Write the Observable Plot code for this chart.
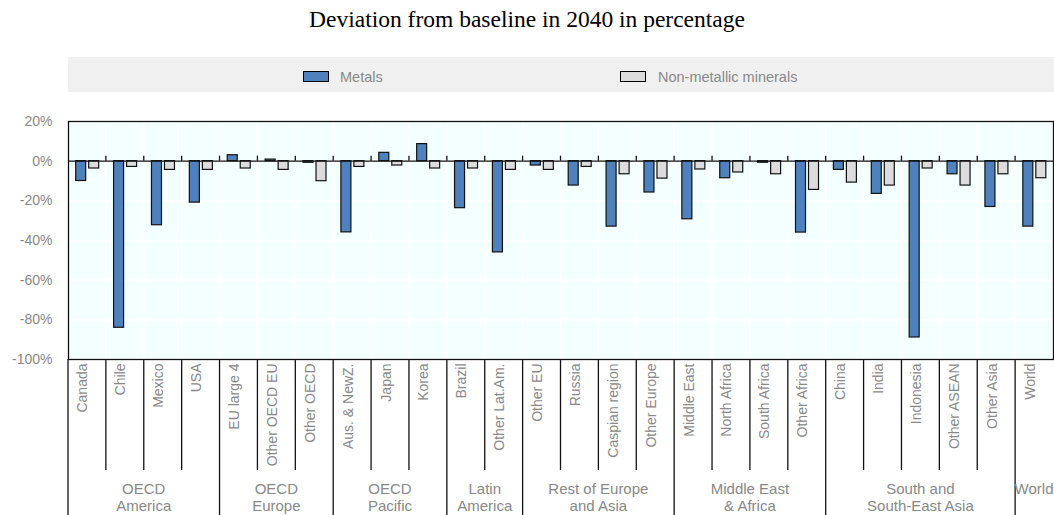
<!DOCTYPE html>
<html><head><meta charset="utf-8">
<script src="https://cdn.jsdelivr.net/npm/d3@7"></script>
<script src="https://cdn.jsdelivr.net/npm/@observablehq/plot@0.6"></script>
<style>
html,body{margin:0;padding:0;background:#fff;overflow:hidden;}
#wrap{position:relative;width:1054px;height:515px;overflow:hidden;font-family:"Liberation Sans",Arial,sans-serif;}
#title{position:absolute;left:0;width:1054px;top:6.1px;text-align:center;font-family:"Liberation Serif","Times New Roman",serif;font-size:23.5px;line-height:26px;color:#000;white-space:nowrap;}
#legend{position:absolute;left:68px;top:57px;width:986px;height:35px;background:#f0f0f0;}
.sw{position:absolute;top:14px;width:24px;height:9px;border:1px solid #000;}
.lt{position:absolute;top:12.7px;font-size:14.5px;line-height:14.5px;color:#888;white-space:nowrap;}
#chart{position:absolute;left:0;top:100px;}
</style></head>
<body>
<div id="wrap">
  <div id="title">Deviation from baseline in 2040 in percentage</div>
  <div id="legend">
    <div class="sw" style="left:235px;background:#4F81BD"></div>
    <div class="lt" style="left:272px">Metals</div>
    <div class="sw" style="left:552px;background:#DCDCDC"></div>
    <div class="lt" style="left:590px">Non-metallic minerals</div>
  </div>
  <div id="chart"></div>
</div>
<script>
const categories = ["Canada","Chile","Mexico","USA","EU large 4","Other OECD EU","Other OECD","Aus. & NewZ.","Japan","Korea","Brazil","Other Lat.Am.","Other EU","Russia","Caspian region","Other Europe","Middle East","North Africa","South Africa","Other Africa","China","India","Indonesia","Other ASEAN","Other Asia","World"];
const metals = [-10,-84,-32.3,-20.9,3,0.8,-0.8,-35.9,4.2,8.6,-23.7,-46,-2.2,-12.3,-33,-15.8,-29.3,-8.6,-0.8,-36,-4.4,-16.5,-88.9,-6.6,-23.1,-33];
const nonMetallic = [-3.7,-2.9,-4.4,-4.4,-3.7,-4.4,-10.1,-2.9,-2.2,-3.7,-3.7,-4.4,-4.4,-2.9,-6.6,-8.8,-4.2,-5.7,-6.6,-14.5,-10.8,-12.3,-3.7,-12.3,-6.6,-8.6];
const groupNames = [["OECD","America"],["OECD","Europe"],["OECD","Pacific"],["Latin","America"],["Rest of Europe","and Asia"],["Middle East","& Africa"],["South and","South-East Asia"],["World"]];
const groupSizes = [4,3,3,2,4,4,5,1];
const yTicks = [20,0,-20,-40,-60,-80,-100];

const W = 1054, H = 415, mL = 68, mR = 1, mT = 21, mB = 156;
const bw = (W - mL - mR) / categories.length;
const metalData = categories.map((c, i) => ({cat: c, value: metals[i]}));
const nmData = categories.map((c, i) => ({cat: c, value: nonMetallic[i]}));
const txtGray = "#888";

const plot = Plot.plot({
  width: W, height: H,
  marginLeft: mL, marginRight: mR, marginTop: mT, marginBottom: mB,
  style: {fontFamily: '"Liberation Sans", Arial, sans-serif', background: "transparent", overflow: "hidden"},
  x: {type: "band", domain: categories, padding: 0, round: false, axis: null},
  y: {domain: [-100, 20], axis: null},
  marks: [
    Plot.gridY(yTicks, {stroke: "#fff", strokeOpacity: 1, strokeWidth: 1.5}),
    Plot.barY(metalData, {x: "cat", y: "value", fill: "#4F81BD", stroke: "#111", strokeWidth: 1.2, insetLeft: 7.7, insetRight: bw - 17.7}),
    Plot.barY(nmData, {x: "cat", y: "value", fill: "#DCDCDC", stroke: "#111", strokeWidth: 1.2, insetLeft: 20.7, insetRight: bw - 30.7}),
    Plot.ruleY([0], {stroke: "#111", strokeWidth: 1.3}),
    Plot.frame({stroke: "#111", strokeWidth: 1.3}),
    Plot.axisY(yTicks, {tickSize: 0, tickPadding: 16, tickFormat: d => d + "%", fill: txtGray, fontSize: 14, label: null}),
    Plot.text(categories, {x: d => d, frameAnchor: "bottom", dy: 4, rotate: -90, textAnchor: "end", fill: txtGray, fontSize: 14})
  ]
});

const svg = d3.select(plot);
const xs = plot.scale("x");
const starts = categories.map(c => xs.apply(c));
const band = xs.bandwidth;
const yBottom = H - mB;

// background + vertical white gridlines below the marks
const bgLayer = svg.insert("g", ":first-child");
bgLayer.append("rect").attr("x", mL).attr("y", mT).attr("width", W - mL - mR).attr("height", H - mT - mB).attr("fill", "#F4FFFF");
starts.slice(1).forEach(x => bgLayer.append("line").attr("x1", x).attr("x2", x).attr("y1", mT).attr("y2", yBottom).attr("stroke", "#fff").attr("stroke-width", 1.5));

// small ticks on zero line
const y0 = plot.scale("y").apply(0);
const overLayer = svg.append("g");
starts.slice(1).forEach(x => overLayer.append("line").attr("x1", x).attr("x2", x).attr("y1", y0 - 5).attr("y2", y0).attr("stroke", "#111").attr("stroke-width", 1.3));

// table lines under the plot
const groupEdges = new Set();
let acc = 0;
groupSizes.forEach(s => { acc += s; groupEdges.add(acc); });
overLayer.append("line").attr("x1", mL).attr("x2", mL).attr("y1", yBottom).attr("y2", H).attr("stroke", "#111").attr("stroke-width", 1.3);
starts.forEach((x, i) => {
  if (i === 0) return;
  const full = groupEdges.has(i);
  overLayer.append("line").attr("x1", x).attr("x2", x).attr("y1", yBottom).attr("y2", full ? H : yBottom + 111).attr("stroke", "#111").attr("stroke-width", 1.3);
});

// group labels
acc = 0;
groupNames.forEach((lines, g) => {
  const a = starts[acc];
  acc += groupSizes[g];
  const b = starts[acc - 1] + band;
  const cx = (a + b) / 2;
  lines.forEach((t, k) => {
    overLayer.append("text").attr("x", cx).attr("y", yBottom + 134.5 + k * 17.5).attr("text-anchor", "middle")
      .attr("fill", txtGray).attr("font-size", 15).text(t);
  });
});

document.getElementById("chart").appendChild(plot);
</script>
</body></html>
